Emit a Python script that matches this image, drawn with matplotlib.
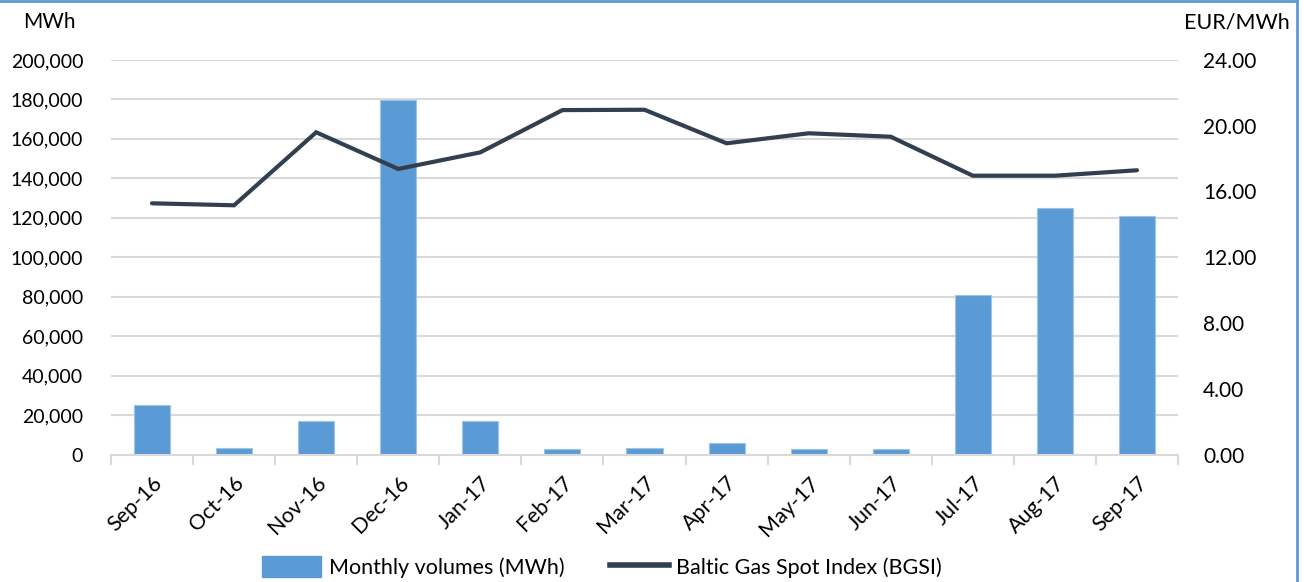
import numpy as np
import matplotlib.pyplot as plt
from matplotlib.lines import Line2D
from matplotlib.ticker import FuncFormatter

# data
months = ["Sep-16", "Oct-16", "Nov-16", "Dec-16", "Jan-17", "Feb-17", "Mar-17",
          "Apr-17", "May-17", "Jun-17", "Jul-17", "Aug-17", "Sep-17"]
volumes = [25000, 3300, 17100, 179700, 16800, 2900, 3100,
           5700, 2800, 2800, 80900, 124800, 120900]
bgsi = [15.28, 15.16, 19.60, 17.37, 18.38, 20.95, 20.97,
        18.93, 19.54, 19.33, 16.96, 16.96, 17.29]

bar_color = "#5B9BD5"
line_color = "#323F4F"
grid_color = "#D9D9D9"

plt.rcParams["font.family"] = ["Lato", "DejaVu Sans"]
plt.rcParams["font.size"] = 14

fig = plt.figure(figsize=(13.04, 5.82), dpi=100)
ax = fig.add_axes([0.0851, 0.219, 0.8183, 0.678])
x = np.arange(len(months))

ax.bar(x, volumes, width=0.44, color=bar_color, edgecolor="#9DC3E6",
       linewidth=0.8, zorder=2, label="Monthly volumes (MWh)")
ax.set_xlim(-0.5, len(months) - 0.5)
ax.set_ylim(0, 200000)
ax.set_yticks(np.arange(0, 200001, 20000))
ax.yaxis.set_major_formatter(FuncFormatter(lambda v, p: f"{int(v):,}"))
ax.grid(axis="y", color=grid_color, linewidth=1.5, zorder=0)
ax.set_axisbelow(True)

for s in ["top", "right", "left"]:
    ax.spines[s].set_visible(False)
ax.spines["bottom"].set_color(grid_color)
ax.spines["bottom"].set_linewidth(1.5)
ax.tick_params(axis="y", length=0, pad=20, labelsize=14)

# category labels at centers, tick marks at boundaries
ax.set_xticks(x)
ax.set_xticklabels(months, rotation=45, ha="right", rotation_mode="anchor",
                   fontsize=15.5)
ax.tick_params(axis="x", which="major", length=0, pad=13)
ax.set_xticks(np.arange(-0.5, len(months)), minor=True)
ax.tick_params(axis="x", which="minor", length=7, width=1.5, color=grid_color)

ax2 = ax.twinx()
ax2.plot(x, bgsi, color=line_color, linewidth=3, solid_capstyle="round",
         solid_joinstyle="miter", zorder=3, label="Baltic Gas Spot Index (BGSI)")
ax2.set_ylim(0, 24)
ax2.set_yticks(np.arange(0, 24.1, 4))
ax2.yaxis.set_major_formatter(FuncFormatter(lambda v, p: f"{v:.2f}"))
for s in ["top", "right", "left", "bottom"]:
    ax2.spines[s].set_visible(False)
ax2.tick_params(axis="y", length=0, pad=18, labelsize=15)

fig.text(0.0176, 0.962, "MWh", ha="left", va="center", fontsize=15)
fig.text(0.989, 0.962, "EUR/MWh", ha="right", va="center", fontsize=15.5)

handles = [plt.Rectangle((0, 0), 1, 1, color=bar_color),
           Line2D([0], [0], color=line_color, linewidth=4)]
fig.legend(handles, ["Monthly volumes (MWh)", "Baltic Gas Spot Index (BGSI)"],
           loc="center", bbox_to_anchor=(0.4617, 0.026), ncol=2, frameon=False,
           fontsize=15.5, handlelength=2.75, handleheight=1.1,
           columnspacing=2.1, handletextpad=0.35)

# blue frame edges visible at top and right of the reference
fig.add_artist(Line2D([0, 0.9946], [0.998, 0.998], color=bar_color, linewidth=2,
                      transform=fig.transFigure))
fig.add_artist(Line2D([0.9946, 0.9946], [0, 0.998], color=bar_color, linewidth=2,
                      transform=fig.transFigure))

fig.savefig("out.png", dpi=100)
